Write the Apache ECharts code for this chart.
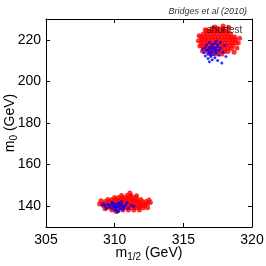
<!DOCTYPE html>
<html><head><meta charset="utf-8">
<script src="https://cdn.jsdelivr.net/npm/echarts@6/dist/echarts.min.js"></script>
<style>html,body{margin:0;padding:0;background:#fff}#c{width:266px;height:266px}</style>
</head><body><div id="c"></div>
<script>
var xTicks = [305, 310, 315, 320];
var yTicks = [140, 160, 180, 200, 220];
var titleText = 'Bridges et al (2010)';
var annotation = [[318.0, 224.4]];
var annotationText = 'shortest';

var redLow = [
[309.8,138.2],[310.2,138.2],[310.6,138.2],[311.0,138.2],[311.4,138.2],[311.8,138.2],
[309.4,139.2],[309.7,139.2],[310.0,139.2],[310.3,139.2],[310.6,139.2],[310.9,139.2],[311.2,139.2],[311.5,139.2],[311.8,139.2],[312.1,139.2],
[309.2,140.2],[309.5,140.2],[309.8,140.2],[310.1,140.2],[310.4,140.2],[310.7,140.2],[311.0,140.2],[311.3,140.2],[311.6,140.2],[311.9,140.2],[312.2,140.2],
[309.1,141.2],[309.4,141.2],[309.7,141.2],[310.0,141.2],[310.3,141.2],[310.6,141.2],[310.9,141.2],[311.2,141.2],[311.5,141.2],[311.8,141.2],[312.1,141.2],[312.4,141.2],
[309.3,142.2],[309.6,142.2],[309.9,142.2],[310.2,142.2],[310.5,142.2],[310.8,142.2],[311.1,142.2],[311.4,142.2],[311.7,142.2],[312.0,142.2],[312.3,142.2],
[309.5,143.2],[309.8,143.2],[310.1,143.2],[310.4,143.2],[310.7,143.2],[311.0,143.2],[311.3,143.2],[311.6,143.2],[311.9,143.2],
[310.0,144.2],[310.3,144.2],[310.6,144.2],[310.9,144.2],[311.2,144.2],[311.5,144.2],
[310.5,145.2],[310.9,145.2],[311.2,145.2],
[308.9,141.0],[312.6,141.8],[311.1,146.3],[310.1,137.4],[312.4,139.3],[309.0,142.6],[312.5,143.0],[311.6,145.0],[309.3,138.8]
];
var blueLow = [
[310.0,139.6],[310.2,140.0],[310.4,140.4],[309.9,140.2],[310.1,139.2],[310.3,139.6],[310.5,139.0],[309.8,139.0],[310.0,140.8],[310.2,141.2],
[310.4,138.6],[310.6,140.0],[309.7,140.6],[310.1,138.2],[310.3,141.6],[309.9,141.4],[310.5,141.0],[309.6,139.6],[310.7,139.4],[310.0,138.0],
[310.6,138.4],[309.5,140.8],[310.8,140.6],[309.8,141.8],[310.3,137.6],
[309.3,140.2],[309.2,141.0],[311.0,139.0],[311.2,140.4],[310.9,141.6],[309.4,139.0],[310.5,142.2],[310.2,137.2],[311.4,139.8],[309.1,140.4]
];
var redHigh = [
[317.0,213.2],[317.4,213.2],[317.8,213.2],
[316.75,214.4],[317.0,214.4],[317.25,214.4],[317.5,214.4],[317.75,214.4],[318.0,214.4],[318.25,214.4],
[316.5,215.8],[316.75,215.8],[317.0,215.8],[317.25,215.8],[317.5,215.8],[317.75,215.8],[318.0,215.8],[318.25,215.8],[318.5,215.8],
[316.35,217.2],[316.6,217.2],[316.85,217.2],[317.1,217.2],[317.35,217.2],[317.6,217.2],[317.85,217.2],[318.1,217.2],[318.35,217.2],[318.6,217.2],
[316.3,218.6],[316.55,218.6],[316.8,218.6],[317.05,218.6],[317.3,218.6],[317.55,218.6],[317.8,218.6],[318.05,218.6],[318.3,218.6],[318.55,218.6],[318.8,218.6],
[316.35,220.0],[316.6,220.0],[316.85,220.0],[317.1,220.0],[317.35,220.0],[317.6,220.0],[317.85,220.0],[318.1,220.0],[318.35,220.0],[318.6,220.0],[318.8,220.0],
[316.3,221.4],[316.55,221.4],[316.8,221.4],[317.05,221.4],[317.3,221.4],[317.55,221.4],[317.8,221.4],[318.05,221.4],[318.3,221.4],[318.55,221.4],[318.75,221.4],
[316.45,222.8],[316.7,222.8],[316.95,222.8],[317.2,222.8],[317.45,222.8],[317.7,222.8],[317.95,222.8],[318.2,222.8],[318.45,222.8],
[316.7,224.2],[316.95,224.2],[317.2,224.2],[317.45,224.2],[317.7,224.2],[317.95,224.2],[318.2,224.2],
[317.1,225.4],[317.5,225.4],[317.9,225.4],
[316.1,219.5],[319.0,218.5],[319.1,220.8],[316.15,222.0],[318.7,214.0],[316.4,214.6],[317.9,226.6],[318.3,226.0],[316.6,224.8],[318.9,216.0],[316.2,217.0],[317.3,226.2]
];
var blueHigh = [
[316.9,214.0],[317.1,214.2],[317.3,214.6],[316.8,215.2],[317.0,215.6],[317.2,215.8],[317.4,215.2],[316.9,216.4],[317.1,216.8],[317.3,216.2],
[317.5,216.6],[316.7,215.0],[317.0,213.2],[317.2,212.8],[317.4,213.6],[316.8,213.0],[317.6,214.8],[317.1,217.8],[317.3,218.4],[316.6,216.2],
[317.5,217.6],[317.7,216.0],[316.7,217.6],[317.0,212.0],
[316.5,213.8],[317.6,212.6],[317.3,211.4],[316.8,211.0],[317.1,210.4],[317.5,210.0],[317.8,208.8],[316.9,209.4],[316.4,215.6],[317.9,214.0],
[318.0,217.2],[317.4,219.4],[316.9,218.8],[317.7,218.8],[318.1,212.0],[316.6,212.2]
];

var font = 'Liberation Sans, Arial, Helvetica, sans-serif';
var chart = echarts.init(document.getElementById('c'), null, {renderer:'canvas'});
var axisLine = {show:true, lineStyle:{color:'#000', width:1}};
function tick(vals){ return {show:true, inside:true, length:4, lineStyle:{color:'#000', width:1}, customValues: vals}; }
var nameRich = {
  m:{fontSize:14, color:'#000', fontFamily:font},
  s:{fontSize:10, color:'#000', fontFamily:font, padding:[7,0,0,0]}
};
chart.setOption({
  animation:false,
  backgroundColor:'#fff',
  title:{text:titleText, right:14, top:2, textStyle:{fontSize:9, fontStyle:'italic', fontWeight:'normal', color:'#333', fontFamily:font}},
  grid:{left:46, right:14, top:19, bottom:39, containLabel:false, outerBoundsMode:'none'},
  xAxis:[
    {type:'value', min:305, max:320, interval:5, position:'bottom', axisLine:axisLine, axisTick:tick(xTicks),
     axisLabel:{fontSize:14, color:'#000', fontFamily:font, margin:6, customValues:xTicks}, splitLine:{show:false},
     name:'{m|m}{s|1/2}{m| (GeV)}', nameLocation:'middle', nameGap:18, nameMoveOverlap:false, nameTextStyle:{rich:nameRich}},
    {type:'value', min:305, max:320, interval:5, position:'top', axisLine:axisLine, axisTick:tick(xTicks), axisLabel:{show:false}, splitLine:{show:false}}
  ],
  yAxis:[
    {type:'value', min:130, max:230, interval:10, position:'left', axisLine:axisLine, axisTick:tick(yTicks),
     axisLabel:{fontSize:14, color:'#000', fontFamily:font, margin:5, customValues:yTicks}, splitLine:{show:false},
     name:'{m|m}{s|0}{m| (GeV)}', nameLocation:'middle', nameRotate:90, nameGap:27, nameMoveOverlap:false, nameTextStyle:{rich:nameRich}},
    {type:'value', min:130, max:230, interval:10, position:'right', axisLine:axisLine, axisTick:tick(yTicks), axisLabel:{show:false}, splitLine:{show:false}}
  ],
  series:[
    {type:'scatter', data:redLow, symbolSize:5, itemStyle:{color:'#ff0000'}, silent:true},
    {type:'scatter', data:redHigh, symbolSize:5, itemStyle:{color:'#ff0000'}, silent:true},
    {type:'scatter', data:blueLow, symbolSize:3, itemStyle:{color:'#0000ff'}, silent:true},
    {type:'scatter', data:blueHigh, symbolSize:3, itemStyle:{color:'#0000ff'}, silent:true},
    {type:'scatter', data:annotation, symbolSize:0, silent:true,
     label:{show:true, position:'inside', formatter:annotationText, fontSize:10, color:'#000', fontFamily:font}}
  ]
});
</script></body></html>
